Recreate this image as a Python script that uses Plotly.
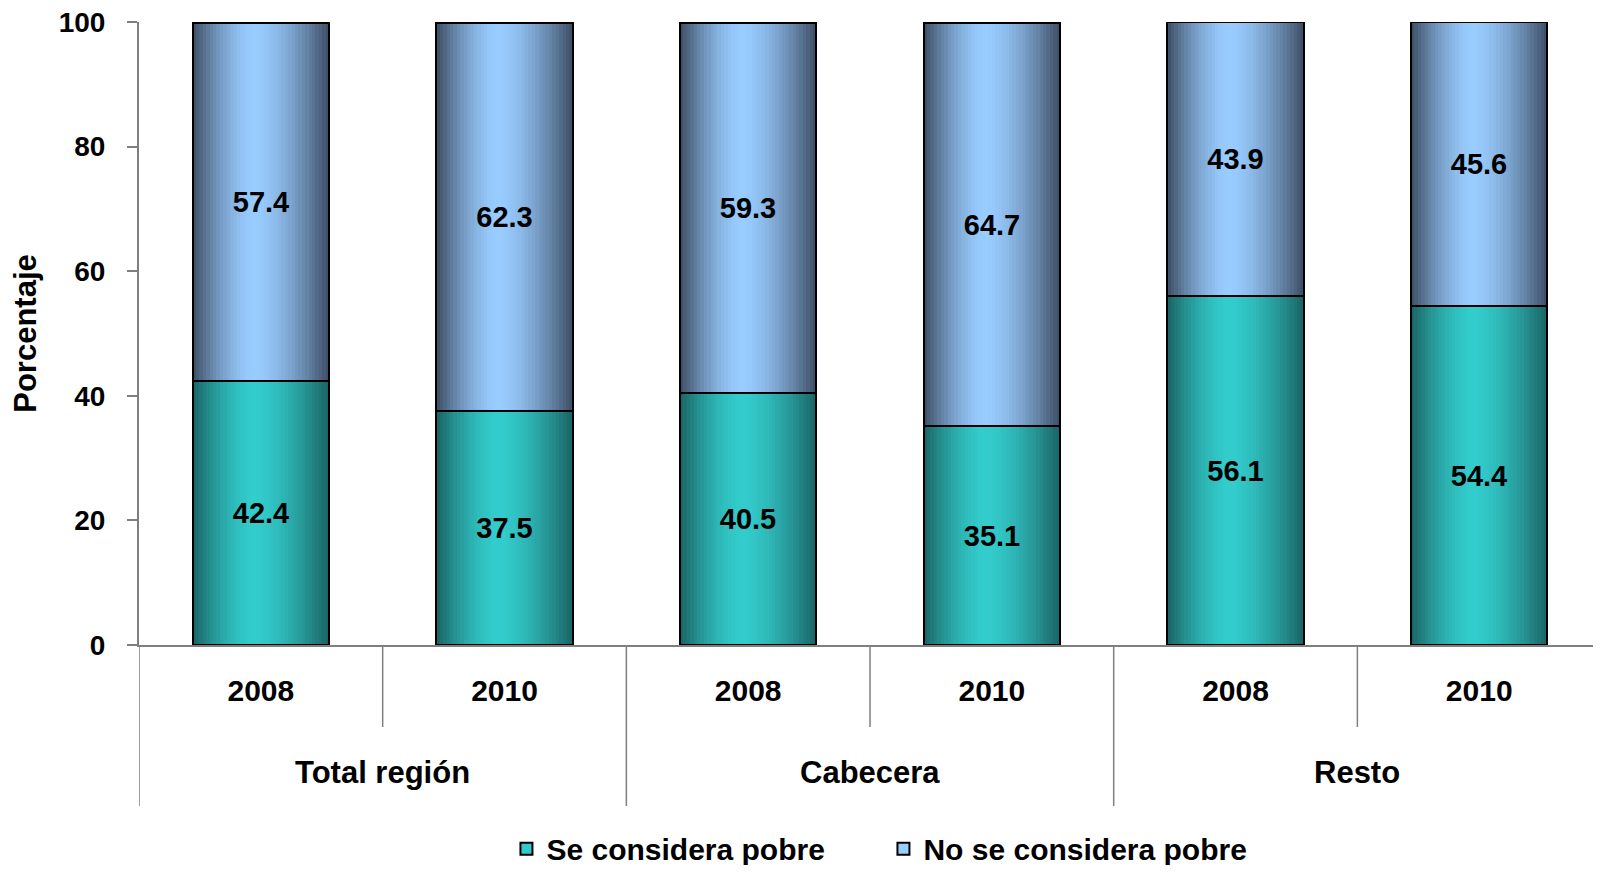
import plotly.graph_objects as go

# ---- data ----
groups = ["Total región", "Cabecera", "Resto"]
years = ["2008", "2010", "2008", "2010", "2008", "2010"]
group_of_bar = ["Total región", "Total región", "Cabecera", "Cabecera", "Resto", "Resto"]
se_considera_pobre = [42.4, 37.5, 40.5, 35.1, 56.1, 54.4]
no_se_considera_pobre = [57.4, 62.3, 59.3, 64.7, 43.9, 45.6]
series_names = ["Se considera pobre", "No se considera pobre"]
y_ticks = [0, 20, 40, 60, 80, 100]

# ---- style ----
FONT = "Liberation Sans, Arial, sans-serif"
teal_dark, teal_light = (26, 98, 98), (51, 204, 204)
blue_dark, blue_light = (60, 76, 98), (153, 204, 255)
BAR_W = 0.56
N_STRIPS = 40

def shade(dark, light, t, c=0.45):
    d = (t - c) / c if t < c else (t - c) / (1 - c)
    f = max(0.0, 1 - abs(d) ** 1.6)
    r, g, b = (int(round(dk + f * (lt - dk))) for dk, lt in zip(dark, light))
    return f"rgb({r},{g},{b})"

xs = list(range(len(years)))
bases_top = se_considera_pobre

fig = go.Figure()

series = [
    (se_considera_pobre, [0] * len(xs), teal_dark, teal_light),
    (no_se_considera_pobre, bases_top, blue_dark, blue_light),
]

# gradient strips
for vals, base, dk, lt in series:
    sw = BAR_W / N_STRIPS
    for k in range(N_STRIPS):
        t = (k + 0.5) / N_STRIPS
        fig.add_trace(go.Bar(
            x=xs, y=vals, base=base,
            width=sw * 1.05, offset=-BAR_W / 2 + k * sw,
            marker=dict(color=shade(dk, lt, t), line=dict(width=0)),
            showlegend=False, hoverinfo="skip",
        ))

# outlines + value labels
for (vals, base, dk, lt), name in zip(series, series_names):
    fig.add_trace(go.Bar(
        x=xs, y=vals, base=base, width=BAR_W, offset=-BAR_W / 2,
        marker=dict(color="rgba(0,0,0,0)", line=dict(color="black", width=2)),
        text=[f"{v:.1f}" for v in vals], textposition="inside",
        insidetextanchor="middle", constraintext="none", textangle=0,
        textfont=dict(family=FONT, size=29, color="black", weight="bold"),
        name=name, showlegend=False,
    ))

# legend entries
for (vals, base, dk, lt), name in zip(series, series_names):
    fig.add_trace(go.Scatter(
        x=[None], y=[None], mode="markers", name=name,
        marker=dict(symbol="square", size=16, color=shade(dk, lt, 0.45),
                    line=dict(color="black", width=2)),
    ))

# separators below x axis
LINE_C = "#7f7f7f"
for i in range(len(xs) + 1):
    xb = i - 0.5
    is_group = (i == 0 or i == len(xs) or group_of_bar[i] != group_of_bar[i - 1])
    fig.add_shape(type="line", xref="x", yref="paper", x0=xb, x1=xb,
                  y0=0, y1=-0.2584 if is_group else -0.1316,
                  line=dict(color=LINE_C, width=1.5))

# group labels
for g in groups:
    idx = [i for i, gb in enumerate(group_of_bar) if gb == g]
    fig.add_annotation(x=sum(idx) / len(idx), y=-0.204, xref="x", yref="paper",
                       text=g, showarrow=False, yanchor="middle",
                       font=dict(family=FONT, size=31, color="black", weight="bold"))

fig.update_layout(
    width=1585, height=857,
    margin=dict(l=131, r=0, t=14, b=220, autoexpand=False),
    paper_bgcolor="white", plot_bgcolor="white",
    barmode="overlay", bargap=0,
    font=dict(family=FONT, color="black"),
    legend=dict(orientation="h", x=0.512, xanchor="center", y=-0.327, yanchor="middle",
                font=dict(family=FONT, size=30, color="black", weight="bold"),
                itemsizing="constant", entrywidth=332, entrywidthmode="pixels",
                bgcolor="rgba(0,0,0,0)"),
    xaxis=dict(range=[-0.5, len(xs) - 0.533], tickmode="array", tickvals=xs, ticktext=years,
               showline=True, linecolor=LINE_C, linewidth=2, ticks="", showgrid=False,
               zeroline=False, ticklabelstandoff=18,
               tickfont=dict(family=FONT, size=30, color="black", weight="bold")),
    yaxis=dict(range=[0, 100], tickmode="array", tickvals=y_ticks,
               showline=True, linecolor=LINE_C, linewidth=2, ticks="outside",
               ticklen=10, tickcolor=LINE_C, tickwidth=1.5, showgrid=False, zeroline=False,
               ticklabelstandoff=16, ticklabeloverflow="allow",
               tickfont=dict(family=FONT, size=28, color="black", weight="bold"),
               title=dict(text="Porcentaje", standoff=14,
                          font=dict(family=FONT, size=31, color="black", weight="bold"))),
)

fig.write_html("out.html")
